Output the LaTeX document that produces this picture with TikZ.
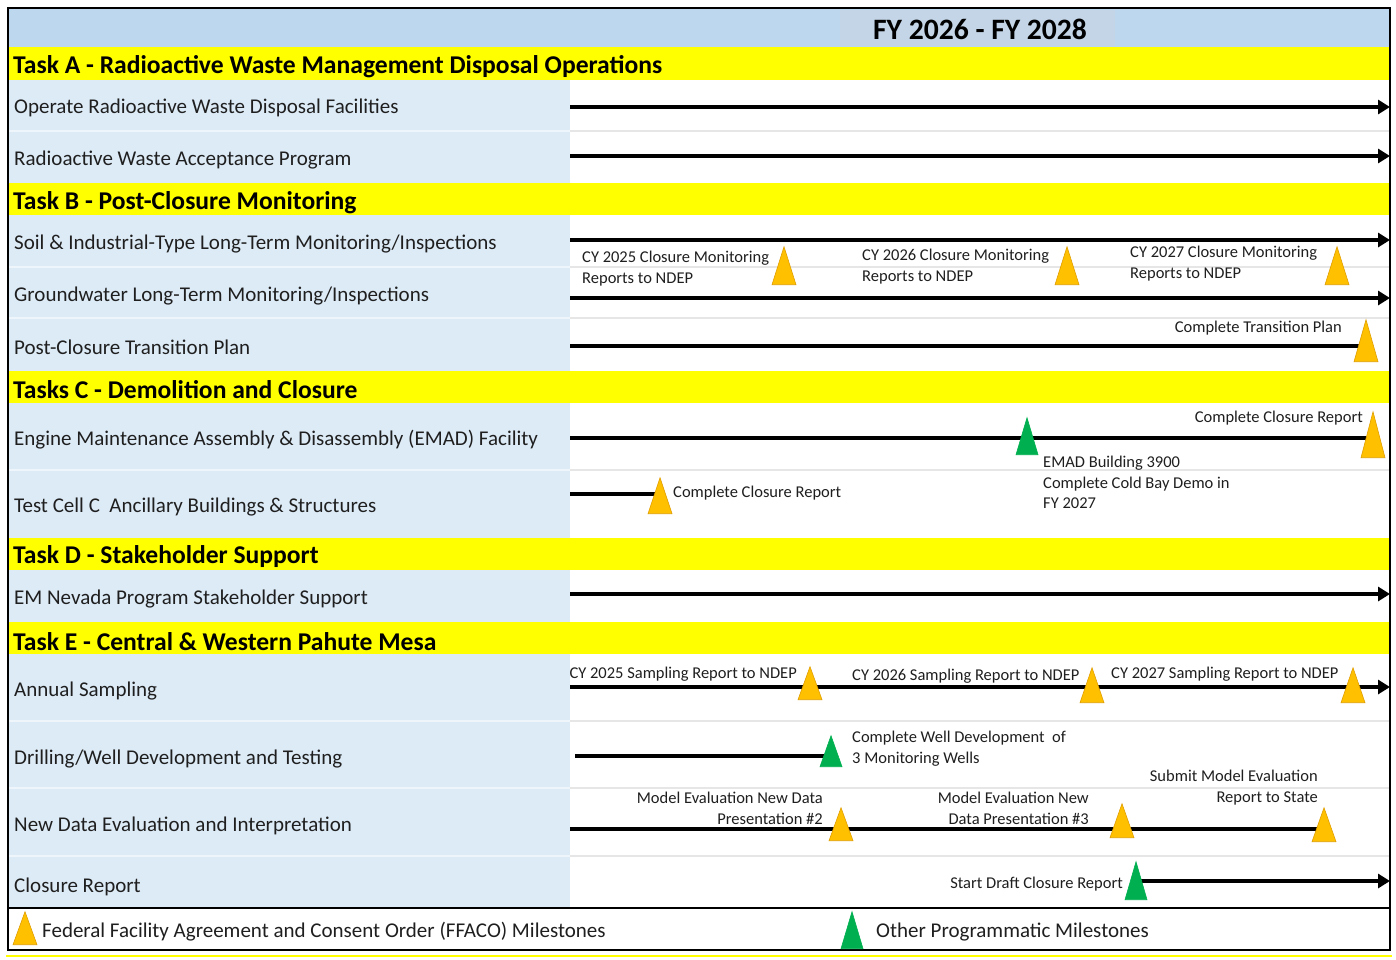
\documentclass[tikz,border=0pt]{standalone}
\usepackage{fontspec}
\setmainfont{Carlito}
\usetikzlibrary{shapes.geometric}
\usetikzlibrary{arrows.meta}
\usetikzlibrary{backgrounds}
\definecolor{HeadBlue}{HTML}{BDD7EE}
\definecolor{RowBlue}{HTML}{DDEBF7}
\definecolor{TaskYellow}{HTML}{FFFF00}
\definecolor{MsOrange}{HTML}{FFC000}
\definecolor{MsOrangeEdge}{HTML}{E09E00}
\definecolor{MsGreen}{HTML}{00B050}
\definecolor{GridGrey}{HTML}{E6E6E6}
\definecolor{TitleBox}{HTML}{C3D5E6}
\tikzset{
    Label/.style = {anchor=west, inner sep=0pt, text=black!88, font=\fontsize{21}{25}\selectfont}
}
\tikzset{
    Task/.style = {anchor=west, inner sep=0pt, text=black, font=\bfseries\fontsize{25.6}{30}\selectfont}
}
\tikzset{
    Note/.style = {inner sep=0pt, text=black!88, font=\fontsize{16.5}{20.5}\selectfont}
}
\tikzset{
    Ffaco/.style = {isosceles triangle, isosceles triangle stretches, shape border rotate=90,
        minimum width=24pt, minimum height=38pt, inner sep=0pt, anchor=lower side,
        fill=MsOrange, draw=MsOrangeEdge, line width=0.6pt},
    Other/.style = {Ffaco, minimum width=22pt, fill=MsGreen, draw=MsGreen}
}
\tikzset{
    Bar/.style = {draw=black, line width=4.3pt},
    BarArrow/.style = {Bar, -{Triangle[length=12pt,width=14pt]}}
}

\begin{document}
\begin{tikzpicture}[x=1pt, y=-1pt]
\useasboundingbox (0,0) rectangle (1396,959);
\begin{scope}[on background layer]
\fill[white] (0,0) rectangle (1396,959);
% header, task bands and left column
\fill[HeadBlue] (8,8) rectangle (1390,47);
\fill[TitleBox] (840,10) rectangle (1115,46);
\foreach \ya/\yb in {47/80, 183/215, 371/403, 538/570, 622/654}
    \fill[TaskYellow] (8,\ya) rectangle (1390,\yb);
\foreach \ya/\yb in {80/183, 215/371, 403/538, 570/622, 654/908}
    \fill[RowBlue] (8,\ya) rectangle (570,\yb);
\foreach \y in {131, 267, 318, 470, 721, 788, 856} {
    \draw[GridGrey, line width=1.5pt] (570,\y) -- (1390,\y);
    \draw[RowBlue!50, line width=1.5pt] (8,\y) -- (570,\y);
}
\end{scope}
\draw[line width=2.5pt] (8,8) rectangle (1390,950);
\draw[line width=2.5pt] (8,908) -- (1390,908);
\draw[TaskYellow, line width=2pt] (6,956) -- (1392,956);

\node[font=\bfseries\fontsize{29.6}{34}\selectfont] (title) at (980,29) {FY 2026 - FY 2028};

% task headers
\node[Task] (taskA) at (13,66.5) {Task A - Radioactive Waste Management Disposal Operations};
\node[Task] (taskB) at (13,202.5) {Task B - Post-Closure Monitoring};
\node[Task] (taskC) at (13,389.5) {Tasks C - Demolition and Closure};
\node[Task] (taskD) at (13,556.5) {Task D - Stakeholder Support};
\node[Task] (taskE) at (13,641.5) {Task E - Central \& Western Pahute Mesa};

% row labels
\node[Label] (operate) at (14,108) {Operate Radioactive Waste Disposal Facilities};
\node[Label] (accept) at (14,160) {Radioactive Waste Acceptance Program};
\node[Label] (soil) at (14,244) {Soil \& Industrial-Type Long-Term Monitoring/Inspections};
\node[Label] (ground) at (14,296) {Groundwater Long-Term Monitoring/Inspections};
\node[Label] (postcl) at (14,347) {Post-Closure Transition Plan};
\node[Label] (emad) at (14,440) {Engine Maintenance Assembly \& Disassembly (EMAD) Facility};
\node[Label] (testc) at (14,507) {Test Cell C\ \ Ancillary Buildings \& Structures};
\node[Label] (nevada) at (14,599) {EM Nevada Program Stakeholder Support};
\node[Label] (annual) at (14,691) {Annual Sampling};
\node[Label] (drill) at (14,759) {Drilling/Well Development and Testing};
\node[Label] (newdata) at (14,826) {New Data Evaluation and Interpretation};
\node[Label] (closure) at (14,887) {Closure Report};

% milestones
\node[Ffaco] (cy25mon) at (784,285) {};
\node[Ffaco] (cy26mon) at (1067,285) {};
\node[Ffaco] (cy27mon) at (1337,285) {};
\node[Ffaco, minimum height=42pt] (transplan) at (1366,362) {};
\node[Other, minimum height=37pt] (emadgreen) at (1027,455) {};
\node[Ffaco, minimum height=46pt] (emadclose) at (1373,458) {};
\node[Ffaco, minimum height=36pt] (tcclose) at (660,514) {};
\node[Ffaco, minimum height=33pt] (cy25samp) at (810,700) {};
\node[Ffaco, minimum height=35pt] (cy26samp) at (1092,703) {};
\node[Ffaco, minimum height=35pt] (cy27samp) at (1353,703) {};
\node[Other, minimum height=31pt] (wells) at (831,767) {};
\node[Ffaco, minimum height=33pt] (eval2) at (841,841) {};
\node[Ffaco, minimum height=34pt] (eval3) at (1122,838) {};
\node[Ffaco, minimum height=34pt] (evalrep) at (1324,842) {};
\node[Other, minimum height=38pt] (draft) at (1136,900) {};

% milestone texts
\node[Note, anchor=north west, align=left] (cy25montxt) at (582,251) {CY 2025 Closure Monitoring\\Reports to NDEP};
\node[Note, anchor=north west, align=left] (cy26montxt) at (862,249) {CY 2026 Closure Monitoring\\Reports to NDEP};
\node[Note, anchor=north west, align=left] (cy27montxt) at (1130,246) {CY 2027 Closure Monitoring\\Reports to NDEP};
\node[Note, anchor=east] (transplantxt) at (1342,328) {Complete Transition Plan};
\node[Note, anchor=east] (emadclosetxt) at (1363,418) {Complete Closure Report};
\node[Note, anchor=north west, align=left] (emadgreentxt) at (1043,456) {EMAD Building 3900\\Complete Cold Bay Demo in\\FY 2027};
\node[Note, anchor=west] (tcclosetxt) at (673,493) {Complete Closure Report};
\node[Note, anchor=east] (cy25samptxt) at (797,674) {CY 2025 Sampling Report to NDEP};
\node[Note, anchor=west] (cy26samptxt) at (852,676) {CY 2026 Sampling Report to NDEP};
\node[Note, anchor=west] (cy27samptxt) at (1111,674) {CY 2027 Sampling Report to NDEP};
\node[Note, anchor=north west, align=left] (wellstxt) at (852,731) {Complete Well Development\ \ of\\3 Monitoring Wells};
\node[Note, anchor=north east, align=right] (eval2txt) at (823,792) {Model Evaluation New Data\\Presentation \#2};
\node[Note, anchor=north east, align=right] (eval3txt) at (1089,792) {Model Evaluation New\\Data Presentation \#3};
\node[Note, anchor=north east, align=right] (evalreptxt) at (1318,770) {Submit Model Evaluation\\Report to State};
\node[Note, anchor=east] (drafttxt) at (1123,884) {Start Draft Closure Report};

% legend
\node[Ffaco, minimum height=33pt] (legffaco) at (25,945) {};
\node[Label] (legffacotxt) at (42,932) {Federal Facility Agreement and Consent Order (FFACO) Milestones};
\node[Other, minimum height=37pt] (legother) at (852,949) {};
\node[Label] (legothertxt) at (876,932) {Other Programmatic Milestones};

% timeline bars
\coordinate (operateS) at (570,107);   \coordinate (operateE) at (1390,107);
\coordinate (acceptS) at (570,156);    \coordinate (acceptE) at (1390,156);
\coordinate (soilS) at (570,240);      \coordinate (soilE) at (1390,240);
\coordinate (groundS) at (570,298);    \coordinate (groundE) at (1390,298);
\coordinate (postclS) at (570,346);
\coordinate (emadS) at (570,438);
\coordinate (testcS) at (570,494);
\coordinate (nevadaS) at (570,594);    \coordinate (nevadaE) at (1390,594);
\coordinate (annualS) at (570,687);    \coordinate (annualE) at (1390,687);
\coordinate (drillS) at (575,756);
\coordinate (newdataS) at (570,829);
\coordinate (closureE) at (1390,881);
\begin{scope}[on background layer]
\path (operateS) edge [BarArrow] (operateE);
\path (acceptS) edge [BarArrow] (acceptE);
\path (soilS) edge [BarArrow] (soilE);
\path (groundS) edge [BarArrow] (groundE);
\path (postclS) edge [Bar] (postclS -| transplan.apex);
\path (emadS) edge [Bar] (emadS -| emadclose.apex);
\path (testcS) edge [Bar] (testcS -| tcclose.apex);
\path (nevadaS) edge [BarArrow] (nevadaE);
\path (annualS) edge [BarArrow] (annualE);
\path (drillS) edge [Bar] (drillS -| wells.apex);
\path (newdataS) edge [Bar] (newdataS -| evalrep.apex);
\path (closureE -| draft.apex) edge [BarArrow] (closureE);
\end{scope}
\end{tikzpicture}
\end{document}
